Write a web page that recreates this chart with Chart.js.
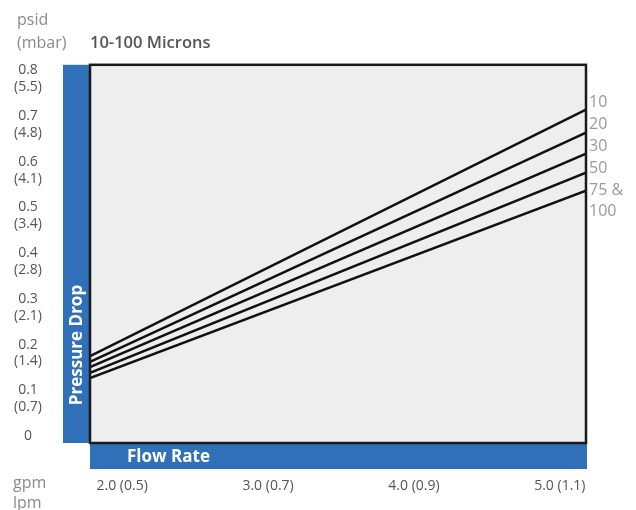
<!DOCTYPE html>
<html>
<head>
<meta charset="utf-8">
<script src="https://cdn.jsdelivr.net/npm/chart.js@4.4.1/dist/chart.umd.min.js"></script>
<style>
  html, body { margin: 0; padding: 0; background: #fff; }
  #wrap { width: 636px; height: 510px; position: relative; }
</style>
</head>
<body>
<div id="wrap"><canvas id="chartPresion" width="636" height="510"></canvas></div>
<script>
// Datos de la grafica
const flowEdges = [1.8, 5.2];               // gpm, extremos de las rectas
const microns = ["10", "20", "30", "50", "75 & 100"];
const drop10 = [0.175, 0.714];
const drop20 = [0.162, 0.664];
const drop30 = [0.151, 0.618];
const drop50 = [0.138, 0.576];
const drop75 = [0.127, 0.537];
const psidTicks = [0, 0.1, 0.2, 0.3, 0.4, 0.5, 0.6, 0.7, 0.8];
const mbarTicks = ["", "(0.7)", "(1.4)", "(2.1)", "(2.8)", "(3.4)", "(4.1)", "(4.8)", "(5.5)"];
const gpmTicks = [2.0, 3.0, 4.0, 5.0];
const lpmTicks = ["0.5", "0.7", "0.9", "1.1"];

const BLUE = "#3070b8";
const FONT = "'Open Sans', 'Noto Sans', sans-serif";

function makeSerie(values) {
  return {
    data: flowEdges.map((f, i) => ({ x: f, y: values[i] })),
    borderColor: "#111",
    borderWidth: 2.5,
    pointRadius: 0,
    fill: false,
    tension: 0,
  };
}

// Fondo gris, barras azules y textos sueltos
const decoPlugin = {
  id: "deco",
  beforeDatasetsDraw(chart) {
    const { ctx, chartArea: a } = chart;
    ctx.save();
    ctx.fillStyle = "#eeeeee";
    ctx.fillRect(a.left, a.top, a.right - a.left, a.bottom - a.top);
    ctx.fillStyle = BLUE;
    ctx.fillRect(a.left - 27, a.top, 27, a.bottom - a.top);
    ctx.fillRect(a.left, a.bottom, a.right - a.left + 1, 26);

    ctx.fillStyle = "#fff";
    ctx.font = "bold 17px " + FONT;
    ctx.textAlign = "center";
    ctx.textBaseline = "middle";
    ctx.translate(a.left - 13, 345);
    ctx.rotate(-Math.PI / 2);
    ctx.fillText("Pressure Drop", 0, 0);
    ctx.restore();

    ctx.save();
    ctx.fillStyle = "#fff";
    ctx.font = "bold 17px " + FONT;
    ctx.textBaseline = "middle";
    ctx.fillText("Flow Rate", a.left + 37, a.bottom + 14);
    ctx.restore();
  },
  afterDatasetsDraw(chart) {
    const { ctx, chartArea: a } = chart;
    ctx.save();
    ctx.strokeStyle = "#1a1a1a";
    ctx.lineWidth = 2.5;
    ctx.strokeRect(a.left, a.top, a.right - a.left, a.bottom - a.top);

    // Etiquetas de micras a la derecha
    ctx.fillStyle = "#9a9a9a";
    ctx.font = "16px " + FONT;
    ctx.textAlign = "left";
    ctx.textBaseline = "middle";
    const lines = [];
    microns.forEach((m) => m.split(" & ").forEach((p, j, arr) => {
      lines.push(j < arr.length - 1 ? p + " &" : p);
    }));
    lines.forEach((t, i) => ctx.fillText(t, a.right + 3, a.top + 38 + i * 21.8));

    // Unidades y titulo
    ctx.fillStyle = "#8a8a8a";
    ctx.font = "16px " + FONT;
    ctx.fillText("psid", 17, 20);
    ctx.fillText("(mbar)", 17, 43);
    ctx.fillText("gpm", 13, 483);
    ctx.fillText("lpm", 13, 503);
    ctx.fillStyle = "#555";
    ctx.font = "600 16.5px " + FONT;
    ctx.fillText("10-100 Microns", 90, 43);
    ctx.restore();
  },
};

const ctx = document.getElementById("chartPresion");

new Chart(ctx, {
  type: "line",
  data: {
    datasets: [
      makeSerie(drop10),
      makeSerie(drop20),
      makeSerie(drop30),
      makeSerie(drop50),
      makeSerie(drop75),
    ],
  },
  options: {
    responsive: false,
    animation: false,
    devicePixelRatio: 1,
    layout: { padding: { top: 64, right: 50, left: 0, bottom: 0 } },
    plugins: { legend: { display: false }, tooltip: { enabled: false } },
    scales: {
      x: {
        type: "linear",
        min: flowEdges[0],
        max: flowEdges[1],
        afterBuildTicks: (axis) => { axis.ticks = gpmTicks.map((v) => ({ value: v })); },
        afterFit: (axis) => { axis.height = 67; },
        grid: { display: false, drawTicks: false },
        border: { display: false },
        ticks: {
          padding: 35,
          labelOffset: 3,
          maxRotation: 0,
          autoSkip: false,
          color: "#555",
          font: { family: FONT, size: 14 },
          callback: (v) => {
            const i = gpmTicks.indexOf(v);
            return i < 0 ? "" : v.toFixed(1) + " (" + lpmTicks[i] + ")";
          },
        },
      },
      y: {
        min: -0.0153,
        max: 0.8122,
        afterBuildTicks: (axis) => { axis.ticks = psidTicks.map((v) => ({ value: v })); },
        afterFit: (axis) => { axis.width = 90; },
        grid: { display: false, drawTicks: false },
        border: { display: false },
        ticks: {
          padding: 48,
          crossAlign: "center",
          labelOffset: 8.4,
          autoSkip: false,
          color: "#555",
          font: { family: FONT, size: 14, lineHeight: 1.2 },
          callback: (v) => {
            const i = psidTicks.findIndex((t) => Math.abs(t - v) < 1e-6);
            if (i < 0) return "";
            return [i === 0 ? "0" : psidTicks[i].toFixed(1), mbarTicks[i]];
          },
        },
      },
    },
  },
  plugins: [decoPlugin],
});
</script>
</body>
</html>
